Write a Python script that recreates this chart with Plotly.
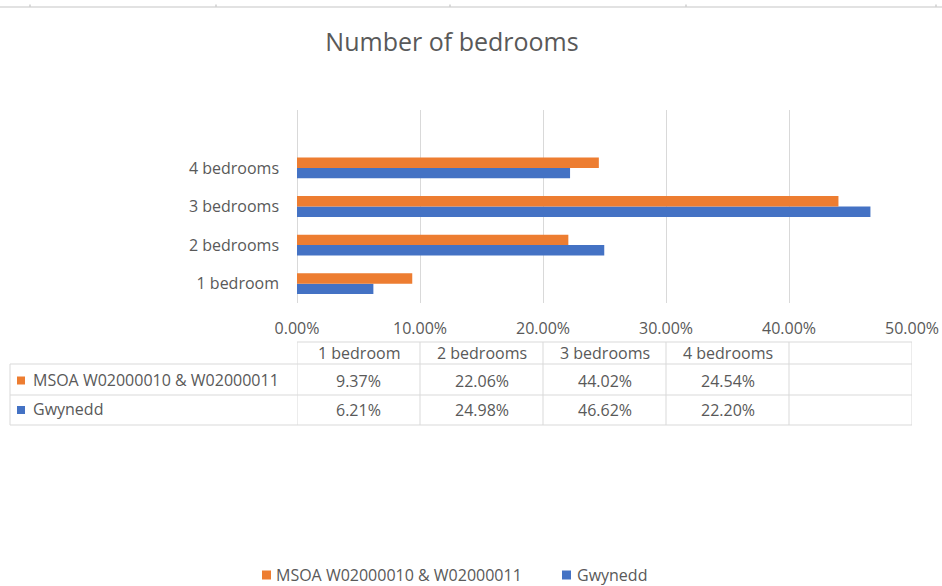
import plotly.graph_objects as go

# Bedroom-count shares by area (percent of households)
categories = ["1 bedroom", "2 bedrooms", "3 bedrooms", "4 bedrooms"]
msoa_name = "MSOA W02000010 & W02000011"
gwynedd_name = "Gwynedd"
msoa_values = [9.37, 22.06, 44.02, 24.54]
gwynedd_values = [6.21, 24.98, 46.62, 22.20]
x_ticks = [0, 10, 20, 30, 40, 50]
x_tick_labels = [f"{v:.2f}%" for v in x_ticks]

ORANGE = "#ED7D31"
BLUE = "#4472C4"
TEXT = "#595959"
GRID = "#D9D9D9"
FONT = "Open Sans"

W, H = 942, 586
PL, PR, PT, PB = 297, 912, 110, 303  # plot-area edges in pixels


def fx(px):
    return (px - PL) / (PR - PL)


def fy(py):
    return (PB - py) / (PB - PT)


fig = go.Figure()
# Gwynedd first so it sits below the MSOA bar inside each group
fig.add_trace(go.Bar(y=categories, x=gwynedd_values, name=gwynedd_name,
                     orientation="h", marker=dict(color=BLUE, line=dict(width=0))))
fig.add_trace(go.Bar(y=categories, x=msoa_values, name=msoa_name,
                     orientation="h", marker=dict(color=ORANGE, line=dict(width=0))))

shapes = []
annotations = []

# worksheet column-header edge along the top
shapes.append(dict(type="line", xref="paper", yref="paper",
                   x0=fx(0), x1=fx(W), y0=fy(7), y1=fy(7),
                   line=dict(color="#E2E2E2", width=2)))
for tx in [30, 216, 450, 686, 936]:
    shapes.append(dict(type="line", xref="paper", yref="paper",
                       x0=fx(tx), x1=fx(tx), y0=fy(4.5), y1=fy(7),
                       line=dict(color="#CFCFCF", width=1.5)))

# data table beneath the axis
ROW_TOP, ROW_HEAD, ROW_MID, ROW_BOT = 342, 364, 395, 425
TABLE_LEFT = 10
line_style = dict(color=GRID, width=1)
shapes.append(dict(type="line", xref="x", yref="paper", x0=x_ticks[0], x1=x_ticks[-1],
                   y0=fy(ROW_TOP), y1=fy(ROW_TOP), line=line_style))
for yy in [ROW_HEAD, ROW_MID, ROW_BOT]:
    shapes.append(dict(type="line", xref="paper", yref="paper", x0=fx(TABLE_LEFT), x1=1,
                       y0=fy(yy), y1=fy(yy), line=line_style))
for xv in x_ticks:
    shapes.append(dict(type="line", xref="x", yref="paper", x0=xv, x1=xv,
                       y0=fy(ROW_TOP), y1=fy(ROW_BOT), line=line_style))
shapes.append(dict(type="line", xref="paper", yref="paper", x0=fx(TABLE_LEFT), x1=fx(TABLE_LEFT),
                   y0=fy(ROW_HEAD), y1=fy(ROW_BOT), line=line_style))

cell_font = dict(family=FONT, size=16, color=TEXT)
head_cy = (ROW_TOP + ROW_HEAD) / 2
rows = [(msoa_name, ORANGE, msoa_values, (ROW_HEAD + ROW_MID) / 2 + 1),
        (gwynedd_name, BLUE, gwynedd_values, (ROW_MID + ROW_BOT) / 2)]
for i, cat in enumerate(categories):
    xc = (x_ticks[i] + x_ticks[i + 1]) / 2
    annotations.append(dict(x=xc, y=fy(head_cy), xref="x", yref="paper", text=cat,
                            showarrow=False, font=cell_font, xanchor="center", yanchor="middle"))
    for _, _, vals, cy in rows:
        annotations.append(dict(x=xc, y=fy(cy), xref="x", yref="paper", text=f"{vals[i]:.2f}%",
                                showarrow=False, font=cell_font, xanchor="center", yanchor="middle"))
for name, col, _, cy in rows:
    shapes.append(dict(type="rect", xref="paper", yref="paper",
                       x0=fx(17), x1=fx(25), y0=fy(cy - 4), y1=fy(cy + 4),
                       fillcolor=col, line=dict(width=0)))
    annotations.append(dict(x=fx(31), y=fy(cy - 1), xref="paper", yref="paper", text=name,
                            showarrow=False, font=cell_font, xanchor="left", yanchor="middle"))

# legend row along the bottom
LEG_CY = 575
for name, col, sq_x, txt_x in [(msoa_name, ORANGE, 262, 274), (gwynedd_name, BLUE, 562, 575)]:
    shapes.append(dict(type="rect", xref="paper", yref="paper",
                       x0=fx(sq_x), x1=fx(sq_x + 9), y0=fy(LEG_CY - 4.5), y1=fy(LEG_CY + 4.5),
                       fillcolor=col, line=dict(width=0)))
    annotations.append(dict(x=fx(txt_x), y=fy(LEG_CY), xref="paper", yref="paper", text=name,
                            showarrow=False, font=cell_font, xanchor="left", yanchor="middle"))

fig.update_layout(
    width=W, height=H,
    margin=dict(l=PL, r=W - PR, t=PT, b=H - PB, pad=0, autoexpand=False),
    paper_bgcolor="white", plot_bgcolor="white",
    barmode="group", bargap=0.46, bargroupgap=0,
    showlegend=False,
    title=dict(text="Number of bedrooms", x=452 / W, xanchor="center",
               y=1 - 42 / H, yanchor="middle", yref="container",
               font=dict(family=FONT, size=25, color=TEXT)),
    xaxis=dict(range=[x_ticks[0], x_ticks[-1]], tickvals=x_ticks, ticktext=x_tick_labels,
               showgrid=True, gridcolor=GRID, gridwidth=1,
               zeroline=True, zerolinecolor=GRID, zerolinewidth=1, showline=False,
               ticks="", ticklabelstandoff=14,
               tickfont=dict(family=FONT, size=16, color=TEXT), fixedrange=True),
    yaxis=dict(categoryorder="array", categoryarray=categories, range=[-0.5, 4.5],
               showgrid=False, zeroline=False, showline=False, ticks="",
               ticklabelstandoff=17,
               tickfont=dict(family=FONT, size=16, color=TEXT), fixedrange=True),
    shapes=shapes, annotations=annotations,
    font=dict(family=FONT, color=TEXT),
)

fig.write_html("out.html")
